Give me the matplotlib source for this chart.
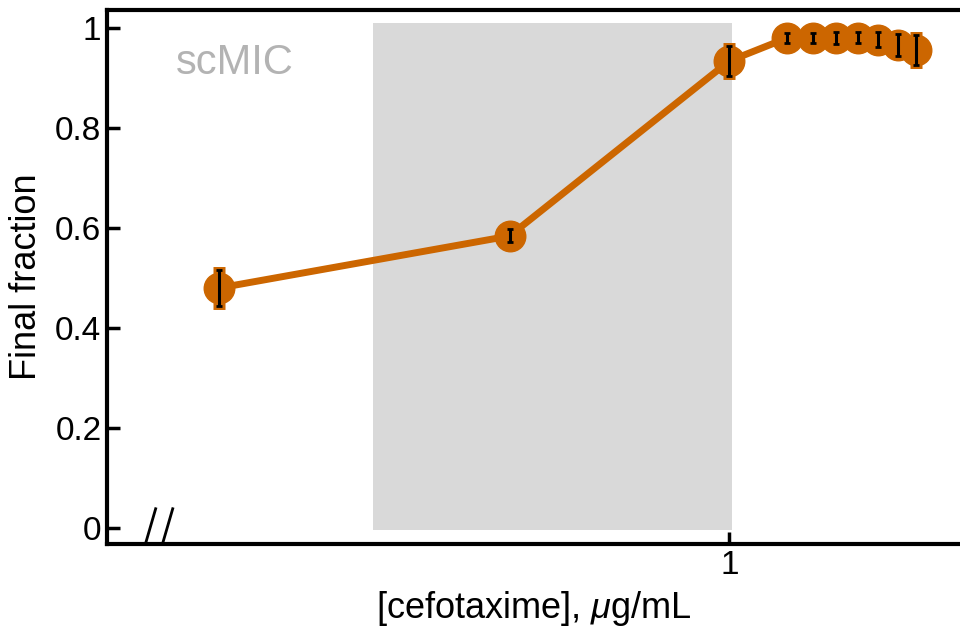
import matplotlib
matplotlib.use("Agg")
import matplotlib.pyplot as plt
import numpy as np

plt.rcParams['font.family'] = ['Liberation Sans', 'DejaVu Sans']
plt.rcParams['mathtext.fontset'] = 'custom'
plt.rcParams['mathtext.it'] = 'Liberation Sans:italic'
plt.rcParams['mathtext.rm'] = 'Liberation Sans'

# cefotaxime concentration (ug/mL) and final fraction
conc = [0.2, 0.5, 1.0, 1.2, 1.3, 1.4, 1.5, 1.6, 1.7, 1.8]
frac = [0.480, 0.584, 0.934, 0.980, 0.980, 0.980, 0.980, 0.976, 0.966, 0.955]
err = [0.036, 0.013, 0.030, 0.010, 0.010, 0.012, 0.011, 0.015, 0.022, 0.030]

# scMIC shaded window
mic_lo, mic_hi = 0.325, 1.01

orange = '#CC6600'

fig = plt.figure(figsize=(9.6, 6.35), dpi=100)
ax = fig.add_axes([0.1115, 0.1433, 0.8885, 0.841])

ax.fill_between([mic_lo, mic_hi], -0.004, 1.01, color='#D9D9D9', lw=0, zorder=0)
fig.text(0.245, 0.901, 'scMIC', color='#B3B3B3', fontsize=30, ha='center', va='center')

ax.plot(conc, frac, '-o', color=orange, lw=5, ms=22, zorder=2)
ax.errorbar(conc, frac, yerr=err, fmt='none', ecolor=orange, elinewidth=5, capsize=4, capthick=5, zorder=3)
ax.errorbar(conc, frac, yerr=err, fmt='none', ecolor='black', elinewidth=2.2, capsize=2.5, capthick=2, zorder=4)

ax.set_xscale('log')
ax.set_xlim(0.1405, 2.07)
ax.set_ylim(-0.032, 1.036)
ax.set_xticks([1])
ax.set_xticklabels(['1'])
ax.xaxis.set_minor_locator(matplotlib.ticker.NullLocator())
ax.set_yticks([0, 0.2, 0.4, 0.6, 0.8, 1.0])
ax.set_yticklabels(['0', '0.2', '0.4', '0.6', '0.8', '1'])
ax.tick_params(direction='in', length=9, width=2.5, labelsize=24, pad=4)

for s in ['left', 'top', 'bottom']:
    ax.spines[s].set_linewidth(3)
ax.spines['right'].set_visible(False)

# axis break marks
for dx in [0.0, 0.02]:
    ax.plot([0.045 + dx, 0.057 + dx], [0.0, 0.066], color='black', lw=2,
            transform=ax.transAxes, clip_on=False)

ax.set_xlabel('[cefotaxime], $\\mathit{\\mu}$g/mL', fontsize=26, labelpad=6)
ax.set_ylabel('Final fraction', fontsize=26, labelpad=8)

fig.savefig('out.png', dpi=100)
